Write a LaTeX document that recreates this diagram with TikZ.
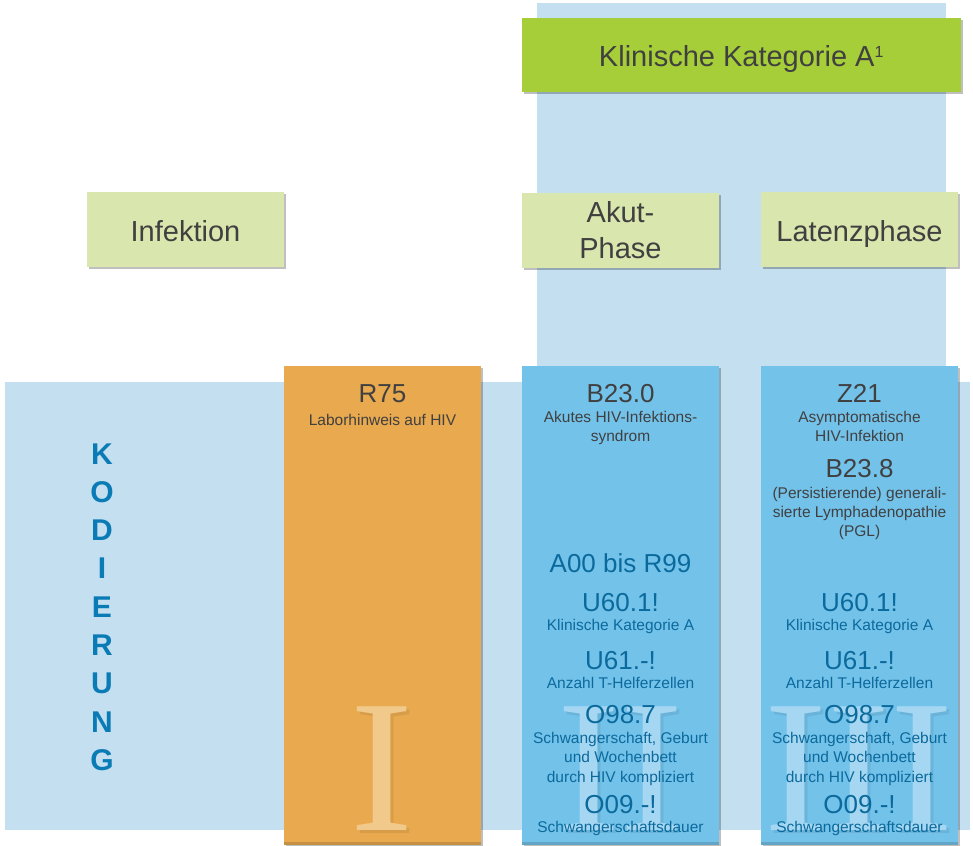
\documentclass[tikz,border=0pt]{standalone}
\usepackage{fontspec}
\setmainfont{Liberation Sans}
\newfontfamily\numfont{Liberation Serif}
\usetikzlibrary{shadows}
\definecolor{bandblue}{HTML}{C3DFF0}
\definecolor{colblue}{HTML}{73C2EA}
\definecolor{colorange}{HTML}{E8A94F}
\definecolor{hgreen}{HTML}{A6CE39}
\definecolor{lgreen}{HTML}{D9E6AE}
\definecolor{dtext}{HTML}{404040}
\definecolor{cblue}{HTML}{0B6A9C}
\definecolor{kblue}{HTML}{0A7BB5}
\definecolor{numorange}{HTML}{F0C98B}
\definecolor{numblue}{HTML}{A6D7F2}
\begin{document}
\begin{tikzpicture}[x=1pt,y=-1pt,
  every node/.style={inner sep=0pt,outer sep=0pt},
  shad/.style={drop shadow={shadow xshift=1.5pt,shadow yshift=-2pt,opacity=0.25,fill=black}},
  phasebox/.style={fill=lgreen,text=dtext,minimum width=197pt,minimum height=75pt,align=center,font=\fontsize{29}{36}\selectfont,shad},
  oneline/.style={text height=24.4pt,text depth=0pt},
  codeg/.style={anchor=base,text=dtext,font=\fontsize{26}{30}\selectfont},
  subg/.style={anchor=base,text=dtext,font=\fontsize{15.5}{19}\selectfont},
  codeb/.style={anchor=base,text=cblue,font=\fontsize{26}{30}\selectfont},
  subb/.style={anchor=base,text=cblue,font=\fontsize{15.5}{19}\selectfont},
  kod/.style={anchor=base,text=kblue,font=\fontsize{30}{30}\selectfont\bfseries},
  roman/.style={anchor=base,text depth=0pt,font=\fontsize{189}{189}\selectfont\numfont}]
\useasboundingbox (0,0) rectangle (973,845);
\fill[white] (0,0) rectangle (973,845);
% background bands
\fill[bandblue] (537,3) rectangle (946,383);
\fill[bandblue] (5,382) rectangle (970,830);
% header
\node[fill=hgreen,text=dtext,minimum width=439pt,minimum height=74pt,font=\fontsize{29}{36}\selectfont,text height=23.4pt,text depth=0pt,shad] (kat) at (741.5,55) {Klinische Kategorie A\textsuperscript{\fontsize{16}{16}\selectfont 1}};
\node[phasebox,oneline] (inf) at (185.5,229.5) {Infektion};
\node[phasebox] (akut) at (620.5,230.5) {Akut-\\Phase};
\node[phasebox,oneline] (lat) at (859.5,229.5) {Latenzphase};
% columns
\fill[colorange,shad] (284,366) rectangle (481,845);
\fill[colblue,shad] (522,366) rectangle (719,845);
\fill[colblue,shad] (761,366) rectangle (958,845);
\fill[colorange!85!black] (284,842) rectangle (481,845);
\fill[colblue!85!black] (522,842) rectangle (719,845);
\fill[colblue!85!black] (761,842) rectangle (958,845);
% roman numerals
\node[roman,text=black,opacity=0.07] (n1s) at (385,833) {I};
\node[roman,text=numorange] (n1) at (382,830) {I};
\node[roman,text=black,opacity=0.07] (n2s) at (623,833) {II};
\node[roman,text=numblue] (n2) at (620,830) {II};
\node[roman,text=black,opacity=0.07] (n3s) at (862,833) {III};
\node[roman,text=numblue] (n3) at (859,830) {III};
% KODIERUNG
\foreach \ch [count=\i from 0] in {K,O,D,I,E,R,U,N,G}{
  \node[kod] (k\i) at (102,464+38.3*\i) {\ch};
}
% column I
\node[codeg] (r75) at (382.5,402) {R75};
\node[subg] (r75t) at (382.5,425) {Laborhinweis auf HIV};
% column II
\node[codeg] (b230) at (620.5,402) {B23.0};
\node[subg] (b230a) at (620.5,422) {Akutes HIV-Infektions-};
\node[subg] (b230b) at (620.5,441) {syndrom};
\node[codeb] (a00) at (620.5,572) {A00 bis R99};
\node[codeb] (u60a) at (620.5,611) {U60.1!};
\node[subb] (u60at) at (620.5,630) {Klinische Kategorie A};
\node[codeb] (u61a) at (620.5,669) {U61.-!};
\node[subb] (u61at) at (620.5,688) {Anzahl T-Helferzellen};
\node[codeb] (o98a) at (620.5,723) {O98.7};
\node[subb] (o98a1) at (620.5,743) {Schwangerschaft, Geburt};
\node[subb] (o98a2) at (620.5,762.5) {und Wochenbett};
\node[subb] (o98a3) at (620.5,782) {durch HIV kompliziert};
\node[codeb] (o09a) at (620.5,813) {O09.-!};
\node[subb] (o09at) at (620.5,832) {Schwangerschaftsdauer};
% column III
\node[codeg] (z21) at (859.5,402) {Z21};
\node[subg] (z21a) at (859.5,422) {Asymptomatische};
\node[subg] (z21b) at (859.5,441) {HIV-Infektion};
\node[codeg] (b238) at (859.5,477) {B23.8};
\node[subg] (b238a) at (859.5,498) {(Persistierende) generali-};
\node[subg] (b238b) at (859.5,517) {sierte Lymphadenopathie};
\node[subg] (b238c) at (859.5,536) {(PGL)};
\node[codeb] (u60b) at (859.5,611) {U60.1!};
\node[subb] (u60bt) at (859.5,630) {Klinische Kategorie A};
\node[codeb] (u61b) at (859.5,669) {U61.-!};
\node[subb] (u61bt) at (859.5,688) {Anzahl T-Helferzellen};
\node[codeb] (o98b) at (859.5,723) {O98.7};
\node[subb] (o98b1) at (859.5,743) {Schwangerschaft, Geburt};
\node[subb] (o98b2) at (859.5,762.5) {und Wochenbett};
\node[subb] (o98b3) at (859.5,782) {durch HIV kompliziert};
\node[codeb] (o09b) at (859.5,813) {O09.-!};
\node[subb] (o09bt) at (859.5,832) {Schwangerschaftsdauer};
\end{tikzpicture}
\end{document}
